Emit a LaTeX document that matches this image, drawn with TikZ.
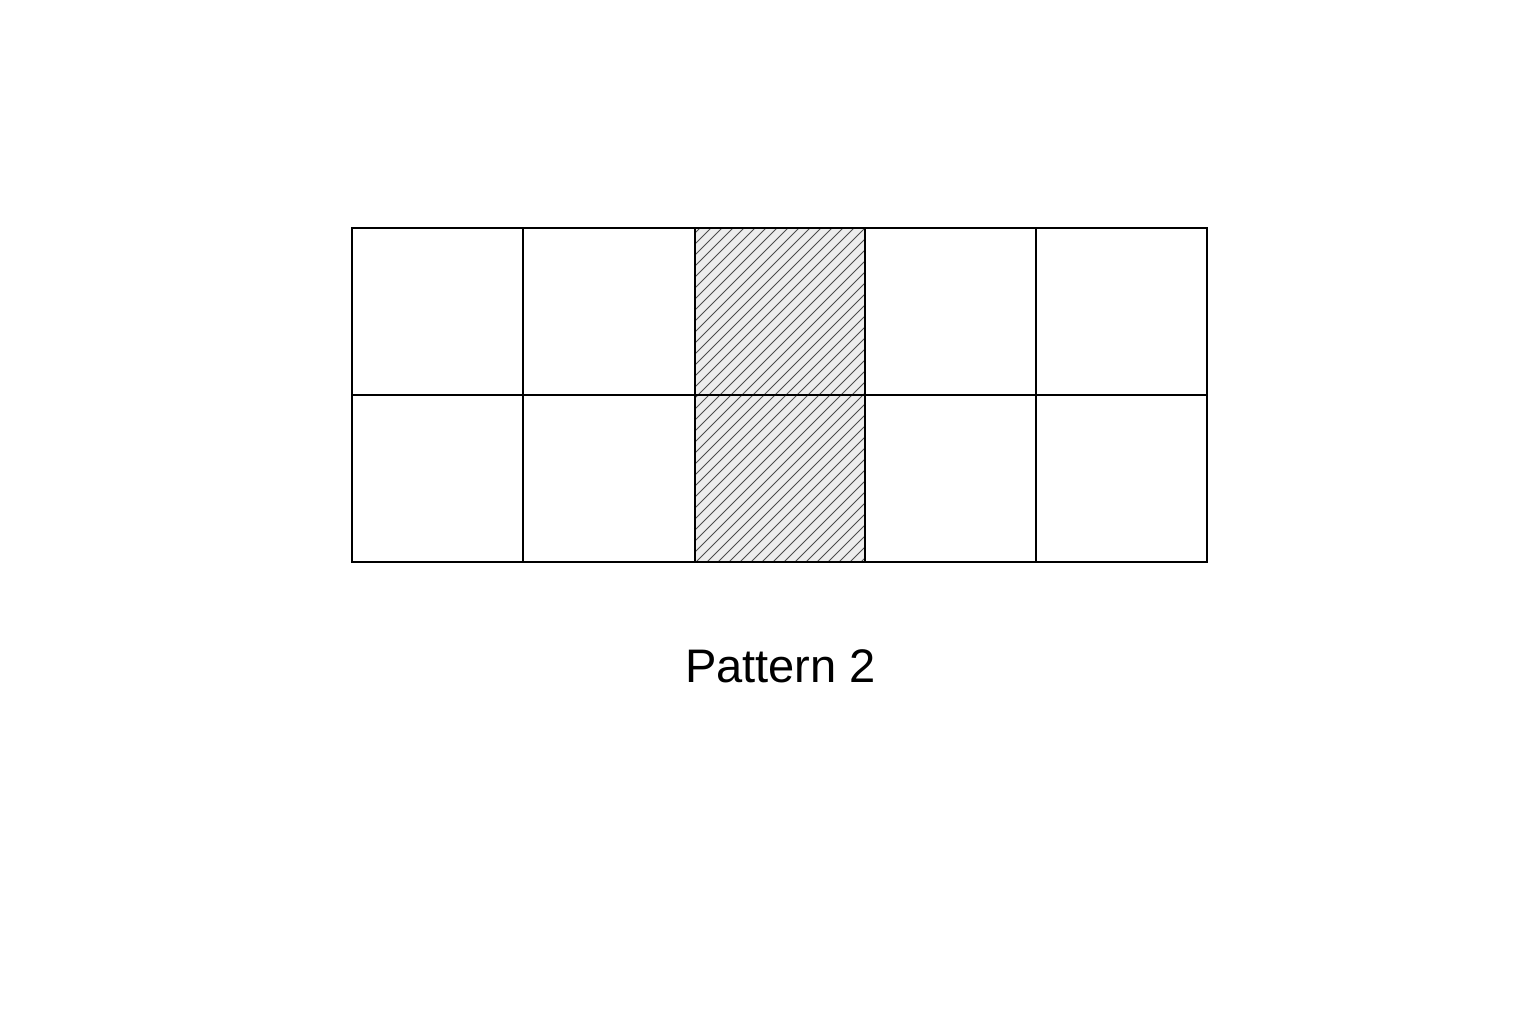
\documentclass[tikz,border=0pt]{standalone}
\usepackage{fontspec}
\setmainfont{Liberation Sans}
\begin{document}
\begin{tikzpicture}[x=0.75pt,y=-0.75pt,
  gridline/.style={draw=black,line width=1.6pt,line cap=rect},
  hatchline/.style={draw=black!70,line width=0.6pt},
  label/.style={font=\fontsize{35.3pt}{42pt}\selectfont,text=black,inner sep=0pt}]
\useasboundingbox[fill=white] (0,0) rectangle (1536,1024);
% hatched column
\fill[black!7] (695,228) rectangle (865,562);
\begin{scope}
\clip (695,228) rectangle (865,562);
\foreach \i in {0,...,50} {
  \draw[hatchline] (695+\i*11-340,562) -- (695+\i*11,222);
}
\end{scope}
% grid
\foreach \x in {352,523,695,865,1036,1207} {
  \draw[gridline] (\x,228) -- (\x,562);
}
\foreach \y in {228,395,562} {
  \draw[gridline] (352,\y) -- (1207,\y);
}
\node[label] (title) at (780.5,666) {Pattern 2};
\end{tikzpicture}
\end{document}
